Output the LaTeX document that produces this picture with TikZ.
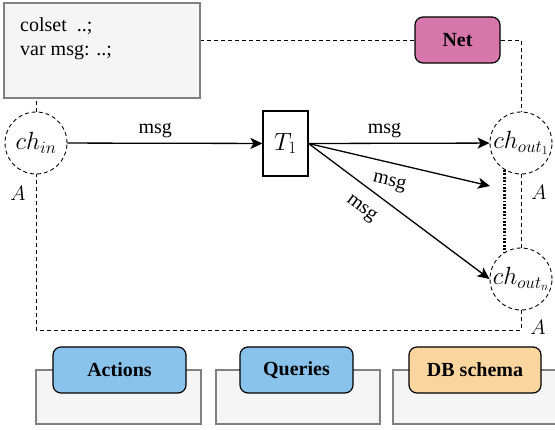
\documentclass[tikz,border=0pt]{standalone}
\usepackage{fontspec}
\setmainfont{Liberation Serif}
\usetikzlibrary{arrows.meta, calc}
\definecolor{declfill}{RGB}{245,245,245}
\definecolor{declline}{RGB}{128,128,128}
\definecolor{netpink}{RGB}{214,118,170}
\definecolor{tabblue}{RGB}{137,194,234}
\definecolor{tabsand}{RGB}{250,213,158}
\tikzset{
  place/.style={circle, draw, line width=0.9pt, dash pattern=on 4pt off 3pt, minimum size=62pt, inner sep=0pt, font=\fontsize{23}{27}\selectfont},
  transbox/.style={rectangle, draw, line width=1.1pt, minimum width=45pt, minimum height=65pt, inner sep=0pt, font=\fontsize{23}{27}\selectfont},
  greybox/.style={rectangle, draw=declline, fill=declfill, line width=1.2pt, inner sep=0pt},
  tabbox/.style={rectangle, draw, rounded corners=8pt, line width=1.2pt, minimum height=46pt, inner sep=0pt, font=\fontsize{20}{24}\selectfont\bfseries},
  link/.style={line width=0.9pt, dash pattern=on 4pt off 3pt},
  dotlink/.style={line width=3pt, dash pattern=on 1.8pt off 1.6pt},
  flow/.style={line width=1.3pt, -{Stealth[length=12pt, width=11pt, inset=3pt]}},
  arclabel/.style={inner sep=0pt},
}
\begin{document}
\begin{tikzpicture}[x=1pt, y=-1pt, font=\fontsize{20}{24}\selectfont]
            \useasboundingbox (0,0) rectangle (555,430);

            \coordinate (P) at (36, 143);
            \coordinate (T) at (285.5, 143.5);
            \coordinate (Q) at (521, 143);
            \coordinate (R) at (521, 279);
            \coordinate (free) at (490, 186);

            \node[greybox, minimum width=196pt, minimum height=95pt] (decl) at (102, 50.5) {};
            \node[anchor=base west, inner sep=0pt] (colset) at (20, 32) {colset\ \ ..;};
            \node[anchor=base west, inner sep=0pt] (varmsg) at (20, 56) {var msg: ..;};
            \node[tabbox, fill=netpink, minimum width=85pt] (net) at (457.5, 40) {Net};

            \node[place] (chin) at (P) {$ch_{in}$};
            \node[transbox] (T1) at (T) {$T_1$};
            \node[place] (chout1) at (Q) {$ch_{out_1}$};
            \node[place] (choutn) at (R) {$ch_{out_n}$};

            \draw[link] (chin.north) -- (chin.north |- decl.south);
            \draw[link] (net.west) -- (net.west -| decl.east);
            \draw[link] (net.east) -| (chout1.north);
            \draw[link] (chout1.south) -- (choutn.north);
            \draw[dotlink] (chout1.239) -- (choutn.121);
            \draw[link] (choutn.south) -- ++(0, 20) -| (chin.south);

            \node[arclabel] (ain) at (18, 193) {$A$};
            \node[arclabel] (aout1) at (539, 192) {$A$};
            \node[arclabel] (aoutn) at (538, 327) {$A$};

            \draw[flow] (chin) -- (T1) node[arclabel, pos=0.45, above=5pt] {msg};
            \draw[flow] (T1.east) -- (chout1) node[arclabel, pos=0.42, above=5pt] {msg};
            \draw[flow] (T1.east) -- (free) node[arclabel, pos=0.47, sloped, below=12pt] {msg};
            \draw[flow] (T1.east) -- (choutn.west) node[arclabel, pos=0.36, sloped, below=13pt] {msg};

            \node[greybox, minimum width=165pt, minimum height=54pt] (actbox) at (118.5, 397) {};
            \node[greybox, minimum width=164pt, minimum height=54pt] (qrybox) at (298, 397) {};
            \node[greybox, minimum width=165pt, minimum height=54pt] (dbbox) at (475.5, 397) {};
            \node[tabbox, fill=tabblue, minimum width=133pt] (actions) at (119.5, 370) {Actions};
            \node[tabbox, fill=tabblue, minimum width=113pt] (queries) at (296.5, 370) {Queries};
            \node[tabbox, fill=tabsand, minimum width=132pt] (schema) at (475, 370) {DB schema};
\end{tikzpicture}
\end{document}
